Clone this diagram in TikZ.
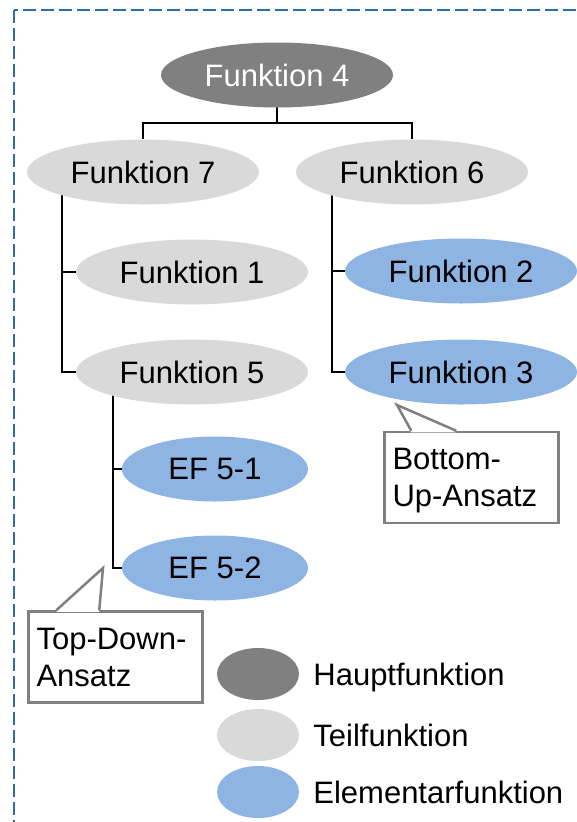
\documentclass[tikz,border=0pt]{standalone}
\usepackage{fontspec}
\setmainfont{Liberation Sans}
\usetikzlibrary{positioning,shapes.geometric,backgrounds}
\definecolor{hauptgrau}{HTML}{808080}
\definecolor{teilgrau}{HTML}{D9D9D9}
\definecolor{elemblau}{HTML}{8EB4E3}
\definecolor{randblau}{HTML}{2E6CB0}

\begin{document}
\begin{tikzpicture}[x=1pt,y=-1pt,
font=\fontsize{31}{37}\selectfont,
fkt/.style={ellipse,inner sep=0pt,minimum width=232pt,minimum height=65pt},
haupt/.style={fkt,fill=hauptgrau,text=white},
teil/.style={fkt,fill=teilgrau},
elem/.style={fkt,fill=elemblau},
ef/.style={elem,minimum width=186pt},
leg/.style={ellipse,inner sep=0pt,minimum width=82pt,minimum height=52pt},
legtext/.style={inner sep=0pt,text depth=0pt,anchor=west},
ast/.style={line width=2pt},
hinweis/.style={draw=hauptgrau,line width=2.5pt,fill=white,rectangle,text depth=37pt,
    text width=158pt,align=left,inner xsep=8pt,minimum height=91pt},
zeiger/.style={draw=hauptgrau,line width=2.5pt,line join=miter}]
\useasboundingbox (0,0) rectangle (576,822);
\draw[randblau,line width=2pt,dash pattern=on 13pt off 5pt] (14,10) rectangle (640,880);

% Baum
\node (f4) [haupt] at (277,75) {Funktion 4};
\node (f7) [teil] at (143,172) {Funktion 7};
\node (f6) [teil] at (412,172) {Funktion 6};
\node (f1) [teil] at (192,272) {Funktion 1};
\node (f5) [teil] at (192,372) {Funktion 5};
\node (f2) [elem] at (461,271) {Funktion 2};
\node (f3) [elem] at (461,372) {Funktion 3};
\node (e51) [ef] at (215,469) {EF 5-1};
\node (e52) [ef] at (215,568) {EF 5-2};

\begin{pgfonlayer}{background}
\draw[ast] (f4.center) -- ++(0,48) -| (f7.north);
\draw[ast] (f4.center) -- ++(0,48) -| (f6.north);
\draw[ast] (f7.center) ++(-81,0) |- (f1.west);
\draw[ast] (f7.center) ++(-81,0) |- (f5.west);
\draw[ast] (f6.center) ++(-80,0) |- (f2.west);
\draw[ast] (f6.center) ++(-80,0) |- (f3.west);
\draw[ast] (f5.center) ++(-79,0) |- (e51.west);
\draw[ast] (f5.center) ++(-79,0) |- (e52.west);
\end{pgfonlayer}

% Hinweise
\node (bu) [hinweis] at (471.5,477.5) {Bottom-\\Up-Ansatz};
\coordinate (buspitze) at (397,405);
\fill[white] ([xshift=28pt,yshift=-1.5pt]bu.north west) -- (buspitze) -- ([xshift=73pt,yshift=-1.5pt]bu.north west) -- cycle;
\draw[zeiger] ([xshift=28pt]bu.north west) -- (buspitze) -- ([xshift=73pt]bu.north west);

\node (td) [hinweis] at (115.5,657) {Top-Down-\\Ansatz};
\coordinate (tdspitze) at (103,568);
\fill[white] ([xshift=29pt,yshift=-1.5pt]td.north west) -- (tdspitze) -- ([xshift=72pt,yshift=-1.5pt]td.north west) -- cycle;
\draw[zeiger] ([xshift=29pt]td.north west) -- (tdspitze) -- ([xshift=72pt]td.north west);

% Legende
\node (legH) [leg,fill=hauptgrau] at (258,674) {};
\node (legT) [leg,fill=teilgrau] at (258,735) {};
\node (legE) [leg,fill=elemblau] at (258,792) {};
\node (txtH) [legtext,right=14pt of legH] {Hauptfunktion};
\node (txtT) [legtext,right=14pt of legT] {Teilfunktion};
\node (txtE) [legtext,right=14pt of legE] {Elementarfunktion};
\end{tikzpicture}
\end{document}
